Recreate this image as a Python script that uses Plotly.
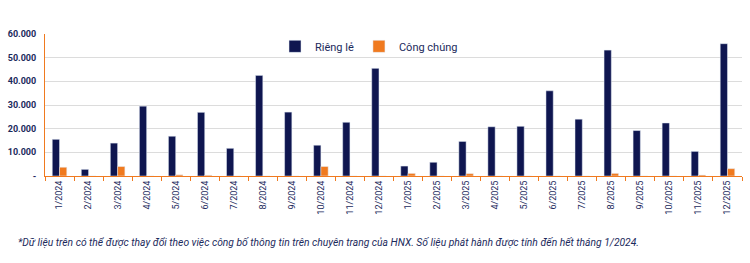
import plotly.graph_objects as go

months = ["1/2024","2/2024","3/2024","4/2024","5/2024","6/2024","7/2024","8/2024",
          "9/2024","10/2024","11/2024","12/2024","1/2025","2/2025","3/2025","4/2025",
          "5/2025","6/2025","7/2025","8/2025","9/2025","10/2025","11/2025","12/2025"]
rieng_le = [15500, 2800, 13900, 29500, 16800, 26900, 11700, 42500, 27000, 13000, 22700, 45500,
            4200, 5800, 14600, 20800, 21000, 36000, 24000, 53200, 19200, 22400, 10400, 55900]
cong_chung = [3700, 0, 4000, 0, 500, 300, 0, 0, 0, 4000, 0, 0,
              1100, 0, 1000, 0, 0, 0, 0, 1100, 0, 0, 400, 3100]
y_ticks = [0, 10000, 20000, 30000, 40000, 50000, 60000]
y_labels = ["-", "10.000", "20.000", "30.000", "40.000", "50.000", "60.000"]

NAVY = "#0f1650"
ORANGE = "#f07a1f"
TEXT = "#1b2a5c"

fig = go.Figure()
fig.add_trace(go.Bar(x=months, y=rieng_le, name="Riêng lẻ", marker_color=NAVY))
fig.add_trace(go.Bar(x=months, y=cong_chung, name="Công chúng", marker_color=ORANGE))

fig.update_layout(
    width=750, height=263,
    margin=dict(l=40, r=8, t=34, b=87),
    paper_bgcolor="white", plot_bgcolor="white",
    barmode="group", bargap=0.5, bargroupgap=0,
    font=dict(family="Roboto, Arial, sans-serif", color=TEXT, size=9),
    legend=dict(orientation="h", x=0.33, y=0.913, xanchor="left", yanchor="middle",
                font=dict(size=11, color=TEXT), bgcolor="rgba(0,0,0,0)",
                itemwidth=30, traceorder="normal"),
    showlegend=True,
)
fig.update_yaxes(range=[0, 60000], tickvals=y_ticks, ticktext=y_labels,
                 showgrid=True, gridcolor="#dcdcdc", gridwidth=1,
                 showline=True, linecolor=ORANGE, linewidth=1,
                 zeroline=False, ticks="", ticklabelstandoff=6,
                 tickfont=dict(size=9, color=TEXT, weight="bold"))
fig.update_xaxes(type="category", tickangle=-90, showline=True, linecolor=ORANGE, linewidth=1,
                 ticks="outside", tickson="boundaries", ticklen=4, tickcolor=ORANGE,
                 tickfont=dict(size=9, color=TEXT), showgrid=False)

fig.add_annotation(
    text="*Dữ liệu trên có thể được thay đổi theo việc công bố thông tin trên chuyên trang của HNX. Số liệu phát hành được tính đến hết tháng 1/2024.",
    xref="paper", yref="paper", x=-0.042, y=-0.467, xanchor="left", yanchor="middle",
    showarrow=False, font=dict(size=10.3, color=TEXT, style="italic"))

fig.write_html("out.html")
